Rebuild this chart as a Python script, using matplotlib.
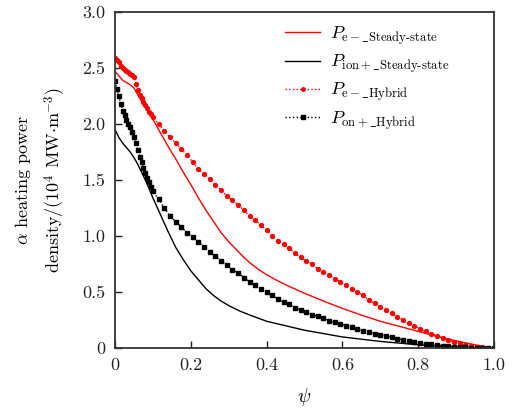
import numpy as np
import matplotlib
matplotlib.use("Agg")
import matplotlib.pyplot as plt

plt.rcParams['font.family'] = 'serif'
plt.rcParams['font.serif'] = ['cmr10', 'DejaVu Serif']
plt.rcParams['mathtext.fontset'] = 'cm'
plt.rcParams['axes.formatter.use_mathtext'] = True

# -----------------------------
# данные
# -----------------------------
psi_e_ss = [0.00, 0.01, 0.02, 0.03, 0.04, 0.05, 0.06, 0.08, 0.10, 0.12, 0.14, 0.16,
            0.18, 0.20, 0.22, 0.24, 0.26, 0.28, 0.30, 0.32, 0.34, 0.36, 0.38, 0.40,
            0.43, 0.46, 0.50, 0.55, 0.60, 0.65, 0.70, 0.75, 0.80, 0.85, 0.90, 0.95, 1.00]
pe_ss = [2.47, 2.43, 2.39, 2.37, 2.35, 2.32, 2.26, 2.15, 2.04, 1.92, 1.80, 1.69,
         1.57, 1.46, 1.34, 1.23, 1.13, 1.03, 0.95, 0.88, 0.81, 0.75, 0.70, 0.655,
         0.60, 0.55, 0.49, 0.42, 0.355, 0.295, 0.24, 0.195, 0.15, 0.105, 0.065, 0.03, 0.0]

psi_ion_ss = [0.00, 0.01, 0.02, 0.03, 0.04, 0.05, 0.06, 0.07, 0.08, 0.10, 0.12, 0.14,
              0.16, 0.18, 0.20, 0.22, 0.24, 0.26, 0.28, 0.30, 0.33, 0.36, 0.40, 0.45,
              0.50, 0.55, 0.60, 0.65, 0.70, 0.75, 0.80, 0.85, 0.90, 0.95, 1.00]
pion_ss = [1.95, 1.88, 1.83, 1.79, 1.75, 1.70, 1.64, 1.57, 1.50, 1.34, 1.19, 1.04,
           0.90, 0.79, 0.69, 0.61, 0.53, 0.47, 0.42, 0.38, 0.33, 0.29, 0.24, 0.20,
           0.16, 0.13, 0.10, 0.08, 0.06, 0.045, 0.03, 0.02, 0.01, 0.004, 0.0]

psi_hyb = [0.000, 0.005, 0.010, 0.015, 0.020, 0.025, 0.030, 0.035, 0.040, 0.045,
           0.050, 0.055, 0.060, 0.065, 0.070, 0.075, 0.080, 0.085, 0.090, 0.095,
           0.100, 0.115, 0.130, 0.145, 0.160, 0.175, 0.190, 0.205, 0.220, 0.235,
           0.250, 0.265, 0.280, 0.295, 0.310, 0.325, 0.340, 0.355, 0.370, 0.385,
           0.400, 0.415, 0.430, 0.445, 0.460, 0.475, 0.490, 0.505, 0.520, 0.535,
           0.550, 0.565, 0.580, 0.595, 0.610, 0.625, 0.640, 0.655, 0.670, 0.685,
           0.700, 0.715, 0.730, 0.745, 0.760, 0.775, 0.790, 0.805, 0.820, 0.835,
           0.850, 0.865, 0.880, 0.895, 0.910, 0.925, 0.940, 0.955, 0.970, 0.985,
           1.000]
pe_hyb = [2.59, 2.57, 2.55, 2.52, 2.50, 2.48, 2.47, 2.46, 2.45, 2.44,
          2.42, 2.36, 2.30, 2.26, 2.23, 2.20, 2.17, 2.14, 2.11, 2.09,
          2.06, 2.00, 1.94, 1.88, 1.83, 1.78, 1.72, 1.66, 1.60, 1.55,
          1.51, 1.46, 1.41, 1.36, 1.32, 1.28, 1.23, 1.18, 1.14, 1.10,
          1.05, 1.00, 0.96, 0.93, 0.89, 0.85, 0.81, 0.78, 0.75, 0.71,
          0.68, 0.65, 0.62, 0.59, 0.56, 0.53, 0.50, 0.47, 0.43, 0.40,
          0.37, 0.34, 0.31, 0.28, 0.25, 0.22, 0.20, 0.17, 0.15, 0.13,
          0.11, 0.09, 0.07, 0.055, 0.042, 0.031, 0.02, 0.013, 0.008, 0.003,
          0.0]
pion_hyb = [2.38, 2.31, 2.25, 2.18, 2.12, 2.08, 2.04, 2.00, 1.97, 1.93,
            1.88, 1.83, 1.77, 1.71, 1.66, 1.61, 1.56, 1.52, 1.48, 1.44,
            1.40, 1.33, 1.25, 1.18, 1.13, 1.08, 1.03, 0.99, 0.95, 0.90,
            0.86, 0.82, 0.78, 0.74, 0.70, 0.67, 0.63, 0.59, 0.56, 0.53,
            0.50, 0.47, 0.44, 0.41, 0.39, 0.36, 0.34, 0.32, 0.30, 0.285,
            0.265, 0.245, 0.23, 0.215, 0.20, 0.185, 0.17, 0.155, 0.14, 0.13,
            0.12, 0.11, 0.097, 0.086, 0.075, 0.064, 0.055, 0.047, 0.04, 0.033,
            0.026, 0.02, 0.016, 0.012, 0.009, 0.006, 0.004, 0.003, 0.002, 0.001,
            0.0]

xticks = [0, 0.2, 0.4, 0.6, 0.8, 1.0]
xticklabels = ['0', '0.2', '0.4', '0.6', '0.8', '1.0']
yticks = [0, 0.5, 1.0, 1.5, 2.0, 2.5, 3.0]
yticklabels = ['0', '0.5', '1.0', '1.5', '2.0', '2.5', '3.0']

labels = [r'$P_{\mathrm{e}-\_\text{Steady-state}}$',
          r'$P_{\mathrm{ion}+\_\text{Steady-state}}$',
          r'$P_{\mathrm{e}-\_\mathrm{Hybrid}}$',
          r'$P_{\mathrm{on}+\_\mathrm{Hybrid}}$']

# -----------------------------
# рисунок
# -----------------------------
fig = plt.figure(figsize=(5.16, 4.12), dpi=100)
ax = fig.add_axes([0.223, 0.155, 0.734, 0.816])

ax.plot(psi_e_ss, pe_ss, color='red', lw=1.0, label=labels[0])
ax.plot(psi_ion_ss, pion_ss, color='black', lw=1.0, label=labels[1])
ax.plot(psi_hyb, pe_hyb, color='red', lw=1.0, ls=':', marker='o', ms=2.8,
        label=labels[2])
ax.plot(psi_hyb, pion_hyb, color='black', lw=1.0, ls=':', marker='s', ms=2.5,
        label=labels[3])

ax.set_xlim(0, 1.0)
ax.set_ylim(0, 3.0)
ax.set_xticks(xticks)
ax.set_xticklabels(xticklabels)
ax.set_yticks(yticks)
ax.set_yticklabels(yticklabels)
ax.tick_params(direction='in', length=5, width=1, labelsize=13, pad=7,
               colors='#222222')

for s in ax.spines.values():
    s.set_linewidth(1.3)
    s.set_color('#333333')

ax.set_xlabel(r'$\psi$', fontsize=14, labelpad=9)
ax.set_ylabel(r'$\alpha$ heating power' + '\n' + r'density/(10$^4$ MW$\cdot$m$^{-3}$)',
              fontsize=13, labelpad=10, linespacing=1.55)

leg = ax.legend(loc='upper left', frameon=False, fontsize=13, handlelength=1.95,
                handletextpad=0.55, labelspacing=0.3, borderpad=0, borderaxespad=0,
                bbox_to_anchor=(0.449, 0.965))
for h in leg.legend_handles[2:]:
    h.set_markersize(2.5)

fig.savefig('out.png', dpi=100)
